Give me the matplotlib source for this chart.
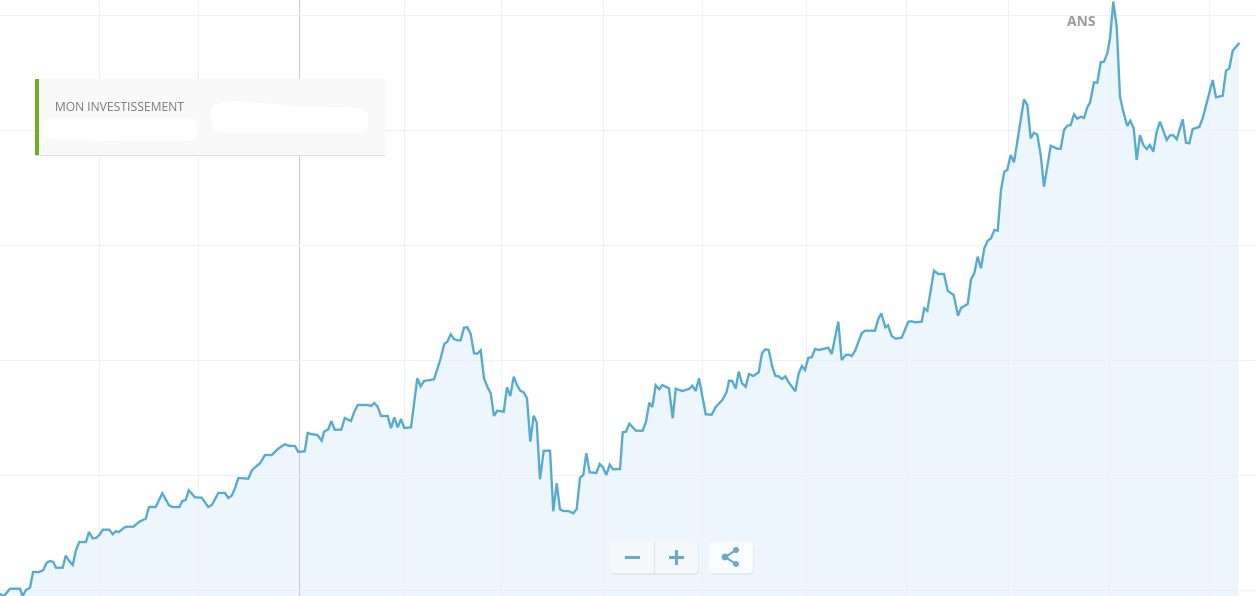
import matplotlib
matplotlib.use("Agg")
import numpy as np
import matplotlib.pyplot as plt
from matplotlib.patches import FancyBboxPatch, Rectangle, Circle, Polygon

# Values, split in stretches of the curve
days_a = [0, 4, 10, 20, 22.7, 26, 30, 33, 39.3, 43.3, 46.7, 50, 53.3, 56, 62.7, 65.7, 69, 72.7,
          76, 79.3, 86, 89, 92.7, 96, 99.3, 102.7, 109.3, 112.7, 115.7, 119, 124, 126.7, 133.3, 139.3,
          145.7, 149, 155.7, 162.3, 169, 172.7, 179.3, 182.3, 185.7, 188.7, 195, 201.7, 208.3, 212,
          218.3, 225, 228.3, 231.7, 235, 238.3, 248.3, 251.7, 255, 260, 265, 271.7, 278, 282, 285,
          288.3, 295, 298.3]
vals_a = [2, 0, 7.3, 7.3, 0, 6, 8.3, 24, 24, 26, 33.3, 35, 34, 28.3, 28.3, 40.3, 35.3, 31,
          46, 54, 54, 64, 57.7, 58, 61, 66.3, 66.3, 61.7, 64.7, 64, 68.3, 69.3, 69.3, 74.3,
          77.3, 89, 89, 102.7, 90.7, 89, 89, 95, 96, 105.7, 98.7, 98.3, 89, 91.3,
          103, 103, 98, 100.3, 107.7, 118, 117.3, 125.3, 128.7, 132.7, 141, 141, 147, 150, 151.7,
          150.3, 150, 144]

days_b = [300, 304.7, 307.7, 311, 317.3, 321.7, 324, 328.3, 331.3, 334.7, 341.3, 344.7, 351, 354.3,
          357.7, 367.7, 371, 374.3, 377.7, 381, 387.7, 391, 394.3, 397.7, 401, 404.3, 411, 417.3,
          420.7, 424, 434, 440, 444.3, 447.3, 450.7, 454, 457.3, 460.7, 464, 467.3, 470.7, 474,
          477.3, 480.7, 484, 487.3, 490.7, 494, 497.3, 503.7, 507, 510.3, 513.7, 517, 520.3, 523.7,
          527, 530.3, 533.7, 536.7, 540, 543.7, 550, 553.3, 556.7, 560, 563.3, 568.3, 573.3, 576.7,
          580, 583.3, 586.3, 589.7, 596.3, 599.7, 603, 606.3, 609.7, 613, 620]
vals_b = [144.3, 144.7, 163, 162, 161, 155.3, 164.3, 166.7, 175, 166.3, 166.3, 178, 175, 184.3,
          191, 191, 190, 193, 189.3, 180, 180, 167.7, 178.7, 168.7, 177, 168, 168.7, 217.7,
          209.7, 215, 216.7, 235.3, 252, 254.3, 261.7, 257, 255.7, 255.7, 268.3, 268.7, 262, 242.7,
          242.3, 245.7, 217.7, 209.3, 202.7, 180, 185.3, 184.3, 208.7, 200, 219.3, 211, 205.3, 203.7,
          197.7, 154.3, 180.3, 173.7, 116.7, 145.3, 145.3, 84.7, 112.7, 86.7, 85, 85, 82.7, 87,
          118.3, 121, 142.7, 123.7, 123, 132, 128.7, 121, 131.3, 126.7, 127]

days_c = [622.7, 626, 629.3, 636, 642.7, 646, 649.3, 652.3, 655.7, 659.3, 662.3, 669, 672.7, 675.7,
          682.3, 689, 692.3, 695.7, 699, 705.7, 711.7, 715.7, 722.3, 726.7, 729, 732.3, 735.7, 738.7,
          742, 745.7, 749, 753.3, 758.7, 762, 765.3, 768.7, 772.3, 775.3, 778.7, 782, 785.3, 788.7,
          795.3, 798.7, 802, 805, 808.3, 811.7, 815, 819, 828.3, 831.7, 838.3, 841.7, 845.7, 849,
          851.7, 855, 861.7, 865, 875, 878.3, 881.3, 885.3, 888, 891.7, 895.7, 901.7, 908.3, 911.7,
          915, 921.7, 924.3, 927.3, 934, 938.3, 944, 947.7, 953.7, 958, 961, 967.7]
vals_c = [163.7, 164.3, 172.3, 165.3, 165.3, 174.3, 193.3, 189, 210.7, 206.7, 211, 207.7, 177.7, 207.3,
          205, 207, 210.3, 205, 217.7, 181.7, 181.3, 189, 196, 204.3, 215.3, 215, 207.3, 224.3,
          212.7, 209.3, 222, 220, 223.7, 242.7, 246.7, 246, 229.3, 220.3, 219.7, 217, 219.7, 213.7,
          204.7, 222.7, 230, 226, 238.3, 238.7, 247, 246, 248.3, 242, 274.3, 236, 241, 241.3,
          240, 245, 262.7, 265.3, 265.3, 277, 282.7, 268.7, 270.7, 260, 257.3, 258.3, 274.3, 274.7,
          273.7, 274.3, 287.7, 285.3, 325.3, 322, 322, 305.3, 301, 280.3, 288, 292]

days_d = [971, 974.3, 977.7, 981, 984.3, 987.7, 991, 994.3, 997.7, 1001, 1004.3, 1007.3, 1010.7, 1014,
          1024, 1027.3, 1030.7, 1034, 1037.3, 1040.7, 1044, 1050.7, 1057.3, 1060.7, 1064, 1067.3,
          1070.7, 1074, 1077.3, 1080.7, 1084, 1087.3, 1090, 1094, 1097.3, 1100.7, 1104, 1107.3, 1110,
          1113.3, 1116.7, 1120, 1123.3, 1127.3, 1130.3, 1133.7, 1136.7, 1140, 1143.3, 1146.7, 1150,
          1153.3, 1156.7, 1160, 1166.7, 1170, 1173.3, 1176.7, 1182.7, 1186, 1189.3, 1192.7, 1199.3,
          1202.7, 1212.7, 1216, 1222.7, 1226, 1229.3, 1232.7, 1238.7]
vals_d = [316.7, 322.7, 339.3, 327.7, 347.7, 355.3, 357.7, 366, 365.3, 406, 424.3, 426, 441, 433.7,
          496.7, 491, 457.7, 463.3, 461.3, 441, 409.3, 450.3, 447.3, 447.3, 466, 470.3,
          471, 481.7, 477.3, 479.3, 478, 488.7, 493.3, 513.7, 513.3, 533.7, 534.3, 542.7, 557.7,
          594.3, 569.3, 499.3, 484.3, 470, 475.3, 467.7, 436, 461, 451, 447, 451,
          444.3, 464.3, 474.3, 456, 460.7, 460.7, 456.7, 476.7, 453.3, 452.7, 467, 469,
          477.7, 516, 498.7, 500.3, 525.3, 527.7, 545.3, 552.3]

grid_days = [99, 198, 404, 501, 603, 702, 806, 906, 1008, 1109, 1209]
grid_vals = [6, 121, 236, 351, 466, 581]
cursor_day = 299

legend_label = "MON INVESTISSEMENT"
period_label = "ANS"

days = np.array(days_a + days_b + days_c + days_d)
vals = np.array(vals_a + vals_b + vals_c + vals_d)

fig = plt.figure(figsize=(12.56, 5.96), dpi=100)
ax = fig.add_axes([0, 0, 1, 1])
ax.set_xlim(0, 1256)
ax.set_ylim(0, 596)
for s in ax.spines.values():
    s.set_visible(False)
ax.set_xticks(grid_days)
ax.set_yticks(grid_vals)
ax.tick_params(length=0, labelbottom=False, labelleft=False)
ax.grid(True, color="#eef0f3", linewidth=0.72)
ax.set_axisbelow(False)

ax.fill_between(days, vals, -10, color="#edf6fc", linewidth=0, zorder=1)
ax.axvline(cursor_day, color="#c9ccd1", linewidth=0.8, zorder=1.5)
ax.plot(days, vals, color="#58abd0", linewidth=1.7, solid_joinstyle="miter", zorder=4)

# Overlay in screen pixels for the page widgets
ui = fig.add_axes([0, 0, 1, 1], facecolor="none")
ui.set_xlim(0, 1256)
ui.set_ylim(596, 0)
ui.axis("off")

# legend box
ui.add_patch(Rectangle((35, 80), 350, 76, color="#dfdfdf", linewidth=0, zorder=1))
ui.add_patch(Rectangle((35, 79), 350, 76, color="#f9f9f9", linewidth=0, zorder=2))
ui.add_patch(Rectangle((35, 79), 4, 76, color="#6fae22", linewidth=0, zorder=3))
ui.text(55, 107.5, legend_label, fontsize=8.7, family="Open Sans", color="#77787a", va="center", zorder=4)

# the two scribbled-out patches
blob_left = [(53, 128), (188, 128), (188, 131), (120, 131), (53, 129)]
blob_right = [(221, 113), (232, 111), (300, 116), (358, 118), (358, 123), (221, 123)]
for blob in (blob_left, blob_right):
    ui.add_patch(Polygon(blob, closed=True, fc="white", ec="white", lw=14.5, joinstyle="round", zorder=3))

# zoom buttons
btn_blue = "#6ea9cc"
ui.add_patch(FancyBboxPatch((611, 544), 88, 31, boxstyle="round,pad=0,rounding_size=4",
                            fc="#e3e9ed", ec="none", zorder=5))
ui.add_patch(FancyBboxPatch((610, 542), 88, 31, boxstyle="round,pad=0,rounding_size=4",
                            fc="#f5f8fa", ec="none", zorder=6))
ui.plot([653.5, 653.5], [542, 574], color="#dde3e7", lw=0.8, zorder=7)
ui.plot([626, 638], [557, 557], color=btn_blue, lw=2.2, zorder=7)
ui.plot([670, 682], [557, 557], color=btn_blue, lw=2.2, zorder=7)
ui.plot([676, 676], [551, 563], color=btn_blue, lw=2.2, zorder=7)

# share button
ui.add_patch(FancyBboxPatch((710, 544), 44, 31, boxstyle="round,pad=0,rounding_size=4",
                            fc="#e3e9ed", ec="none", zorder=5))
ui.add_patch(FancyBboxPatch((709, 542), 44, 31, boxstyle="round,pad=0,rounding_size=4",
                            fc="#f8fcfe", ec="none", zorder=6))
ui.plot([736, 725, 736], [550, 557, 564], color=btn_blue, lw=1.5, zorder=7)
for cx, cy, r in [(725, 557, 3.4), (736, 550, 3), (736, 564, 3)]:
    ui.add_patch(Circle((cx, cy), r, fc=btn_blue, ec="none", zorder=8))

ui.text(1081, 21.5, period_label, fontsize=10, family="Open Sans", fontweight="bold",
        color="#9a9a9f", ha="center", va="center", zorder=9)

fig.savefig("out.png", dpi=100)
